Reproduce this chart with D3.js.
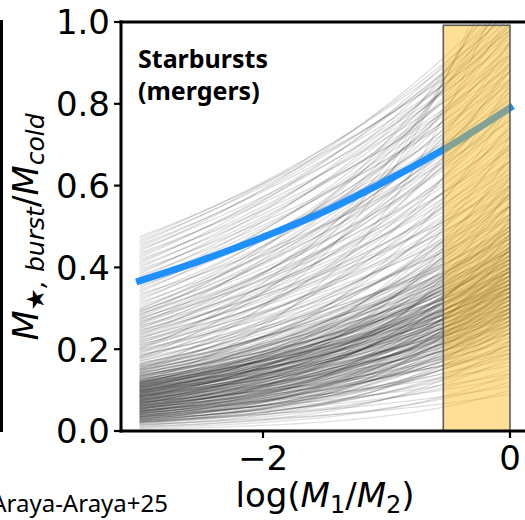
<!DOCTYPE html>
<html><head><meta charset="utf-8">
<script src="https://cdn.jsdelivr.net/npm/d3@7"></script>
<style>body{margin:0;background:#fff}</style>
</head><body><svg id="c" width="525" height="520"></svg>
<script>
// Value of each grey model curve at log(M1/M2) = -3 and at 0
const lineStart = [
0.005,0.008,0.010,0.012,0.014,0.015,0.017,0.018,0.020,0.021,0.022,0.024,0.025,0.026,0.028,0.029,0.030,0.031,0.033,0.034,
0.035,0.036,0.038,0.039,0.040,0.041,0.043,0.044,0.045,0.046,0.048,0.049,0.050,0.051,0.053,0.054,0.055,0.056,0.058,0.059,
0.060,0.061,0.063,0.064,0.065,0.066,0.068,0.069,0.070,0.071,0.073,0.074,0.075,0.076,0.078,0.079,0.080,0.081,0.083,0.084,
0.085,0.086,0.088,0.089,0.090,0.091,0.093,0.094,0.095,0.096,0.098,0.099,0.100,0.101,0.103,0.104,0.105,0.106,0.108,0.109,
0.110,0.111,0.113,0.114,0.115,0.116,0.118,0.119,0.120,
0.122,0.125,0.127,0.130,0.132,0.135,0.137,0.140,0.142,0.145,0.147,0.150,0.152,0.155,0.157,0.160,0.162,0.165,0.167,0.170,
0.172,0.175,0.177,0.180,0.182,0.185,0.187,0.190,0.192,0.195,0.197,0.200,0.202,0.205,0.207,0.210,0.212,0.215,0.217,0.220,
0.222,0.225,0.227,0.230,0.232,0.235,0.237,0.240,0.242,0.245,0.247,0.250,0.252,0.255,0.257,0.260,0.262,0.265,0.267,0.270,
0.272,0.275,0.277,0.280,0.282,0.285,0.287,0.290,0.292,0.295,0.297,0.300,0.150,0.180,0.120,0.200,
0.305,0.310,0.315,0.320,0.325,0.330,0.335,0.340,0.345,0.350,0.355,0.360,0.365,0.370,0.375,0.380,0.385,0.390,0.395,0.400,
0.405,0.410,0.415,0.420,0.425,0.430,0.435,0.440,0.445,0.450,0.455,0.460,0.465,0.470,0.475,
0.020,0.022,0.023,0.025,0.026,0.027,0.029,0.030,0.032,0.033,
0.034,0.036,0.037,0.038,0.040,0.041,0.042,0.044,0.045,0.046,
0.047,0.049,0.050,0.051,0.052,0.054,0.055,0.056,0.057,0.059,
0.060,0.061,0.062,0.064,0.065,0.066,0.067,0.068,0.070,0.071,
0.072,0.073,0.074,0.076,0.077,0.078,0.079,0.080,0.082,0.083,
0.084,0.085,0.086,0.087,0.089,0.090,0.091,0.092,0.093,0.094,
0.096,0.097,0.098,0.099,0.100,0.102,0.103,0.104,0.105,0.107,
0.108,0.109,0.110,0.112,0.113,0.114,0.116,0.117,0.118,0.120,
0.121,0.123,0.124,0.126,0.128,0.129,0.131,0.133,0.135,0.137,
0.139,0.141,0.143,0.145,0.148,0.150,0.153,0.156,0.159,0.162,
0.035,0.048,0.058,0.069,0.081,0.088,0.095,0.101,0.111,0.119,
0.043,0.053,0.063,0.075,0.085,0.097,0.106,0.115,0.125,0.134
];
const lineEnd = [
0.10,0.14,0.22,0.12,0.30,0.18,0.09,0.26,0.40,0.15,0.20,0.33,0.11,0.24,0.45,0.17,0.28,0.13,0.36,0.21,
0.52,0.19,0.30,0.25,0.14,0.42,0.23,0.31,0.18,0.60,0.27,0.35,0.21,0.16,0.48,0.29,0.38,0.24,0.20,0.55,
0.32,0.27,0.43,0.22,0.34,0.68,0.30,0.26,0.40,0.19,0.50,0.33,0.28,0.45,0.36,0.24,0.62,0.31,0.39,0.29,
0.53,0.35,0.26,0.44,0.72,0.33,0.38,0.48,0.30,0.58,0.36,0.42,0.28,0.51,0.34,0.65,0.40,0.31,0.46,0.37,
0.55,0.43,0.33,0.80,0.49,0.39,0.60,0.35,0.45,
0.42,0.58,0.36,0.50,0.70,0.44,0.39,0.62,0.48,0.55,0.85,0.41,0.52,0.66,0.46,0.58,0.75,0.50,0.44,0.63,
0.55,0.90,0.49,0.60,0.70,0.53,0.47,0.66,0.80,0.57,0.62,0.52,0.74,0.95,0.59,0.68,0.55,0.83,0.63,0.72,
0.58,0.88,0.66,0.61,0.77,1.02,0.69,0.64,0.82,0.73,0.60,0.92,0.70,0.79,0.66,0.86,1.08,0.74,0.81,0.69,
0.95,0.78,0.72,0.88,1.12,0.83,0.76,0.98,0.86,0.80,1.05,0.90,1.25,1.20,1.15,1.18,
0.84,0.95,0.80,1.00,0.88,0.93,0.76,1.02,0.90,0.97,0.85,1.04,0.92,0.81,0.99,0.88,1.05,0.94,0.86,1.00,
0.91,1.06,0.96,0.89,1.03,0.98,0.92,1.07,0.95,1.01,0.97,1.04,0.99,1.02,0.98,
0.24,0.31,0.19,0.36,0.27,0.22,0.40,0.29,0.25,0.33,
0.21,0.38,0.28,0.34,0.26,0.45,0.30,0.23,0.35,0.41,
0.27,0.32,0.37,0.24,0.29,0.48,0.33,0.26,0.39,0.31,
0.36,0.28,0.43,0.25,0.34,0.30,0.52,0.37,0.29,0.40,
0.33,0.27,0.46,0.35,0.31,0.38,0.28,0.42,0.34,0.56,
0.30,0.37,0.44,0.32,0.39,0.29,0.47,0.35,0.41,0.33,
0.38,0.50,0.31,0.43,0.36,0.40,0.34,0.58,0.37,0.45,
0.32,0.41,0.39,0.48,0.35,0.43,0.38,0.53,0.36,0.46,
0.40,0.34,0.49,0.42,0.38,0.55,0.44,0.41,0.47,0.39,
0.51,0.45,0.42,0.60,0.48,0.44,0.53,0.50,0.47,0.57,
0.26,0.30,0.35,0.32,0.37,0.42,0.36,0.39,0.44,0.41,
0.28,0.33,0.31,0.38,0.35,0.40,0.45,0.37,0.43,0.49
];
// Fiducial relation (blue)
const fitX = [-3, -2.5, -2, -1.5, -1, -0.5, 0];
const fitY = [0.367, 0.417, 0.474, 0.537, 0.612, 0.695, 0.790];
// Shaded range
const spanRange = [-0.54, 0];
const xTicks = [-2, 0];
const yTicks = [0.0, 0.2, 0.4, 0.6, 0.8, 1.0];

const svg = d3.select('#c');
const x = d3.scaleLinear().domain([-3.15, 0.15]).range([121, 528.5]);
const y = d3.scaleLinear().domain([0, 1]).range([431, 22]);

svg.append('defs').append('clipPath').attr('id','clip')
  .append('rect').attr('x', x(-3.15)).attr('y', y(1)).attr('width', x(0.15)-x(-3.15)).attr('height', y(0)-y(1));

const plot = svg.append('g').attr('clip-path','url(#clip)');
const grid = d3.range(0, 61).map(i => -3 + i * 0.05);
const line = d3.line().x(d => x(d[0])).y(d => y(d[1]));

lineStart.forEach((s, i) => {
  const e = lineEnd[i];
  const slope = Math.log10(e / s) / 3; // power law: y = e * (M1/M2)^slope
  const pts = grid.map(g => [g, e * Math.pow(10, slope * g)]);
  plot.append('path').attr('d', line(pts)).attr('fill','none')
    .attr('stroke','#000').attr('stroke-opacity',0.13).attr('stroke-width',1.3);
});

plot.append('path')
  .attr('d', d3.line().x((d,i)=>x(fitX[i])).y(d=>y(d)).curve(d3.curveMonotoneX)(fitY))
  .attr('fill','none').attr('stroke','#1e90ff').attr('stroke-width',7).attr('stroke-linecap','square');

svg.append('rect')
  .attr('x', x(spanRange[0])).attr('width', x(spanRange[1]) - x(spanRange[0]))
  .attr('y', y(0.992)).attr('height', y(0) - y(0.992))
  .attr('fill','rgb(250,185,20)').attr('fill-opacity',0.45)
  .attr('stroke','#5f5f5f').attr('stroke-width',1.6);

// spines
const sp = svg.append('g').attr('stroke','#000').attr('stroke-width',3);
sp.append('line').attr('x1', x(-3.15)).attr('x2', x(-3.15)).attr('y1', y(1)-1.5).attr('y2', y(0)+1.5);
sp.append('line').attr('x1', x(-3.15)-1.5).attr('x2', 530).attr('y1', y(1)).attr('y2', y(1));
sp.append('line').attr('x1', x(-3.15)-1.5).attr('x2', 530).attr('y1', y(0)).attr('y2', y(0));
// neighbouring panel edge
svg.append('line').attr('x1',1.5).attr('x2',1.5).attr('y1',20).attr('y2',432).attr('stroke','#000').attr('stroke-width',3);

const font = "'DejaVu Sans', sans-serif";
// y ticks
yTicks.forEach(t => {
  svg.append('line').attr('x1', x(-3.15)-7).attr('x2', x(-3.15)).attr('y1', y(t)).attr('y2', y(t))
    .attr('stroke','#000').attr('stroke-width',2.2);
  svg.append('text').attr('x', 110).attr('y', y(t)).attr('dy','0.365em')
    .attr('text-anchor','end').attr('font-family',font).attr('font-size',34).text(t.toFixed(1));
});
// x ticks
xTicks.forEach(t => {
  svg.append('line').attr('x1', x(t)).attr('x2', x(t)).attr('y1', y(0)).attr('y2', y(0)+7)
    .attr('stroke','#000').attr('stroke-width',2.2);
  svg.append('text').attr('x', x(t)).attr('y', 470)
    .attr('text-anchor','middle').attr('font-family',font).attr('font-size',34)
    .text(t < 0 ? '\u2212' + Math.abs(t) : String(t));
});

// x label
const xl = svg.append('text').attr('x', 325).attr('y', 507).attr('text-anchor','middle')
  .attr('font-family',font).attr('font-size',34);
xl.append('tspan').text('log(');
xl.append('tspan').attr('font-style','italic').text('M');
xl.append('tspan').attr('font-size',24).attr('dy',6).text('1');
xl.append('tspan').attr('dy',-6).text('/');
xl.append('tspan').attr('font-style','italic').text('M');
xl.append('tspan').attr('font-size',24).attr('dy',6).text('2');
xl.append('tspan').attr('dy',-6).text(')');

// y label
const yl = svg.append('text').attr('transform','translate(38,227) rotate(-90)').attr('text-anchor','middle')
  .attr('font-family',font).attr('font-size',35);
yl.append('tspan').attr('font-style','italic').text('M');
yl.append('tspan').attr('font-style','italic').attr('font-size',25).attr('dy',6).text('\u2605, burst');
yl.append('tspan').attr('dy',-6).text('/');
yl.append('tspan').attr('font-style','italic').text('M');
yl.append('tspan').attr('font-style','italic').attr('font-size',25).attr('dy',6).text('cold');

// annotation
const ann = svg.append('text').attr('font-family',"'Noto Sans', sans-serif").attr('font-weight','bold').attr('font-size',25);
ann.append('tspan').attr('x',138).attr('y',68).text('Starbursts');
ann.append('tspan').attr('x',138).attr('y',100).text('(mergers)');

svg.append('text').attr('x',168).attr('y',512).attr('text-anchor','end')
  .attr('font-family',"'Noto Sans', sans-serif").attr('font-size',24).text('Araya-Araya+25');
</script>
</body></html>
